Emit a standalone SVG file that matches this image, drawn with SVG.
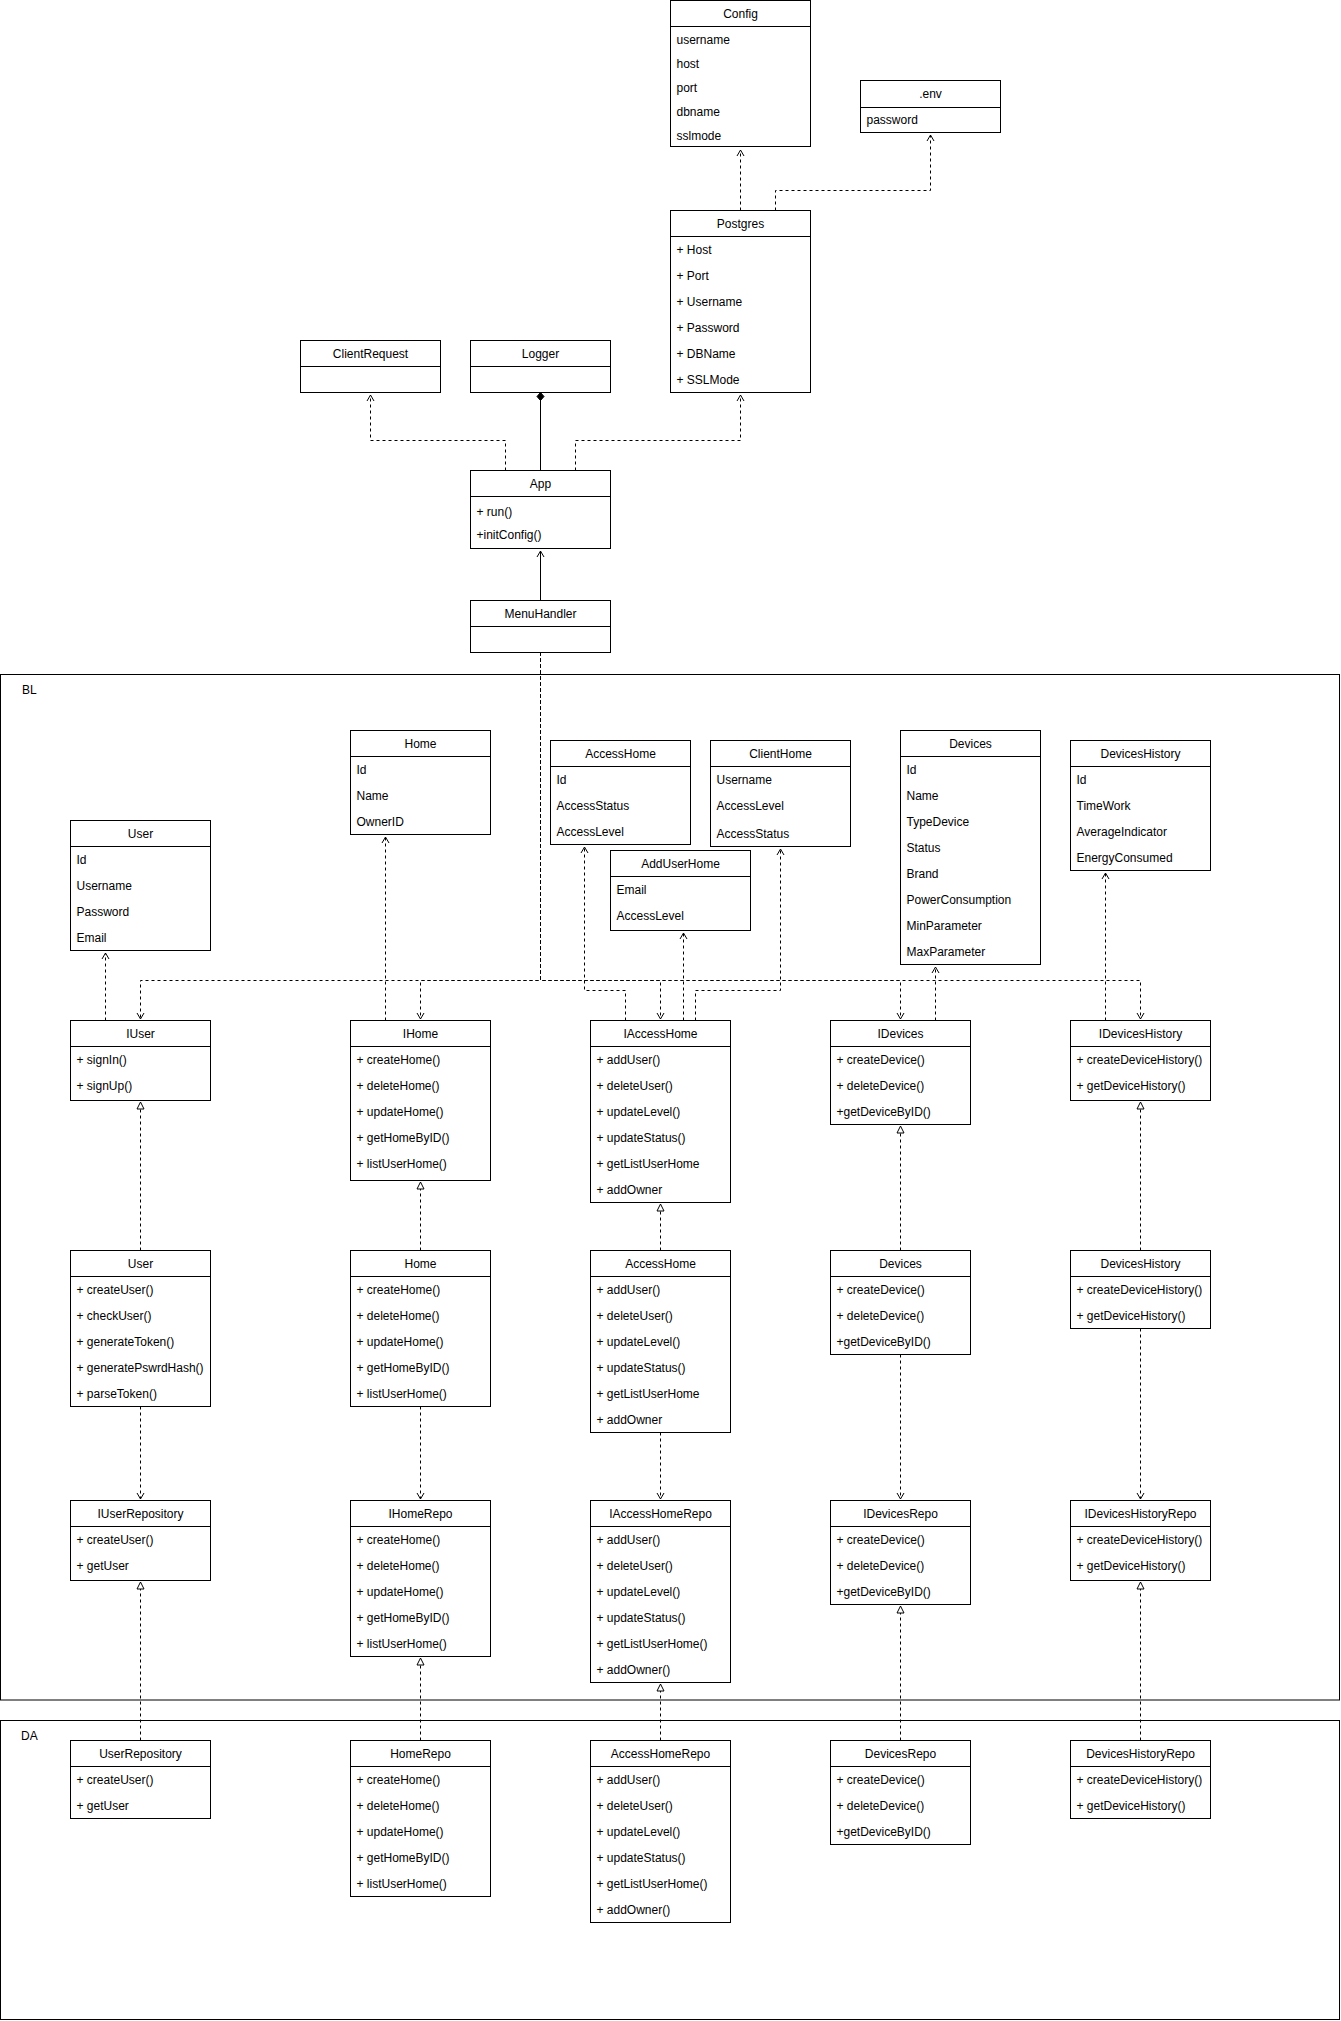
<svg xmlns="http://www.w3.org/2000/svg" width="1341" height="2021" viewBox="0 0 1341 2021">
<style>
.box{fill:#fff;stroke:#000;stroke-width:1}
.sep{stroke:#000;stroke-width:1}
.cont{fill:none;stroke:#000;stroke-width:1}
text{font-family:"Liberation Sans",Arial,Helvetica,sans-serif;font-size:12px;fill:#000}
.h{text-anchor:middle}
.e{fill:none;stroke:#000;stroke-width:1}
.d{stroke-dasharray:3 3}
.dep{marker-end:url(#open)}
.real{marker-end:url(#tri)}
</style>
<defs>
<marker id="open" viewBox="-9 -5 10 10" refX="0" refY="0" markerWidth="10" markerHeight="10" markerUnits="userSpaceOnUse" orient="auto" overflow="visible"><path d="M-6,-3.5 L0,0 L-6,3.5" fill="none" stroke="#000" stroke-width="1"/></marker>
<marker id="tri" viewBox="-9 -5 10 10" refX="0" refY="0" markerWidth="10" markerHeight="10" markerUnits="userSpaceOnUse" orient="auto" overflow="visible"><path d="M-7,-3.5 L0,0 L-7,3.5 Z" fill="#fff" stroke="#000" stroke-width="1"/></marker>
<marker id="dia" viewBox="-9 -5 10 10" refX="0" refY="0" markerWidth="10" markerHeight="10" markerUnits="userSpaceOnUse" orient="auto" overflow="visible"><path d="M0,0 L-4,-3.5 L-8,0 L-4,3.5 Z" fill="#000" stroke="#000" stroke-width="1"/></marker>
</defs>
<rect width="1341" height="2021" fill="#fff"/>

<g id="containers">
<g id="c-bl"><rect class="cont" x="0.5" y="674.5" width="1339" height="1025.5"/><text x="22" y="694">BL</text></g>
<g id="c-da"><rect class="cont" x="0.5" y="1720.5" width="1339" height="299"/><text x="21" y="1740">DA</text></g>
</g>

<g id="connectors">
<path class="e d dep" d="M740.5,210.5 V150"/>
<path class="e d dep" d="M775.5,210.5 V190.5 H930.5 V135"/>
<path class="e d dep" d="M505.5,470.5 V440.5 H370.5 V395"/>
<path class="e" style="marker-end:url(#dia)" d="M540.5,470.5 V392.5"/>
<path class="e d dep" d="M575.5,470.5 V440.5 H740.5 V395"/>
<path class="e dep" d="M540.5,600.5 V551"/>
<path class="e d dep" d="M540.5,652.5 V980.5 H140.5 V1019"/>
<path class="e d dep" d="M540.5,652.5 V980.5 H420.5 V1019"/>
<path class="e d dep" d="M540.5,652.5 V980.5 H660.5 V1019"/>
<path class="e d dep" d="M540.5,652.5 V980.5 H900.5 V1019"/>
<path class="e d dep" d="M540.5,652.5 V980.5 H1140.5 V1019"/>
<path class="e d dep" d="M105.5,1020.5 V953"/>
<path class="e d dep" d="M385.5,1020.5 V837"/>
<path class="e d dep" d="M625.5,1020.5 V990.5 H584.5 V847"/>
<path class="e d dep" d="M683.5,1020.5 V933"/>
<path class="e d dep" d="M695.5,1020.5 V990.5 H780.5 V849"/>
<path class="e d dep" d="M935.5,1020.5 V967"/>
<path class="e d dep" d="M1105.5,1020.5 V873"/>
<path class="e d real" d="M140.5,1250.5 V1102"/>
<path class="e d real" d="M420.5,1250.5 V1182"/>
<path class="e d real" d="M660.5,1250.5 V1204"/>
<path class="e d real" d="M900.5,1250.5 V1126"/>
<path class="e d real" d="M1140.5,1250.5 V1102"/>
<path class="e d dep" d="M140.5,1406.5 V1499"/>
<path class="e d dep" d="M420.5,1406.5 V1499"/>
<path class="e d dep" d="M660.5,1432.5 V1499"/>
<path class="e d dep" d="M900.5,1354.5 V1499"/>
<path class="e d dep" d="M1140.5,1328.5 V1499"/>
<path class="e d real" d="M140.5,1740.5 V1582"/>
<path class="e d real" d="M420.5,1740.5 V1658"/>
<path class="e d real" d="M660.5,1740.5 V1684"/>
<path class="e d real" d="M900.5,1740.5 V1606"/>
<path class="e d real" d="M1140.5,1740.5 V1582"/>
</g>

<g id="n-config"><rect class="box" x="670.5" y="0.5" width="140" height="146"/><line class="sep" x1="670.5" y1="26.5" x2="810.5" y2="26.5"/><text class="h" x="740.5" y="17.5">Config</text><text x="676.5" y="44">username</text><text x="676.5" y="67.5">host</text><text x="676.5" y="91.5">port</text><text x="676.5" y="115.5">dbname</text><text x="676.5" y="139.5">sslmode</text></g>
<g id="n-env"><rect class="box" x="860.5" y="80.5" width="140" height="52"/><line class="sep" x1="860.5" y1="107.5" x2="1000.5" y2="107.5"/><text class="h" x="930.5" y="97.5">.env</text><text x="866.5" y="124">password</text></g>
<g id="n-postgres"><rect class="box" x="670.5" y="210.5" width="140" height="182"/><line class="sep" x1="670.5" y1="236.5" x2="810.5" y2="236.5"/><text class="h" x="740.5" y="227.5">Postgres</text><text x="676.5" y="253.5">+ Host</text><text x="676.5" y="279.5">+ Port</text><text x="676.5" y="305.5">+ Username</text><text x="676.5" y="331.5">+ Password</text><text x="676.5" y="357.5">+ DBName</text><text x="676.5" y="383.5">+ SSLMode</text></g>
<g id="n-clientrequest"><rect class="box" x="300.5" y="340.5" width="140" height="52"/><line class="sep" x1="300.5" y1="366.5" x2="440.5" y2="366.5"/><text class="h" x="370.5" y="357.5">ClientRequest</text></g>
<g id="n-logger"><rect class="box" x="470.5" y="340.5" width="140" height="52"/><line class="sep" x1="470.5" y1="366.5" x2="610.5" y2="366.5"/><text class="h" x="540.5" y="357.5">Logger</text></g>
<g id="n-app"><rect class="box" x="470.5" y="470.5" width="140" height="78"/><line class="sep" x1="470.5" y1="496.5" x2="610.5" y2="496.5"/><text class="h" x="540.5" y="487.5">App</text><text x="476.5" y="515.5">+ run()</text><text x="476.5" y="539">+initConfig()</text></g>
<g id="n-menuhandler"><rect class="box" x="470.5" y="600.5" width="140" height="52"/><line class="sep" x1="470.5" y1="626.5" x2="610.5" y2="626.5"/><text class="h" x="540.5" y="617.5">MenuHandler</text></g>

<g id="n-user-entity"><rect class="box" x="70.5" y="820.5" width="140" height="130"/><line class="sep" x1="70.5" y1="846.5" x2="210.5" y2="846.5"/><text class="h" x="140.5" y="837.5">User</text><text x="76.5" y="864">Id</text><text x="76.5" y="890">Username</text><text x="76.5" y="916">Password</text><text x="76.5" y="942">Email</text></g>
<g id="n-home-entity"><rect class="box" x="350.5" y="730.5" width="140" height="104"/><line class="sep" x1="350.5" y1="756.5" x2="490.5" y2="756.5"/><text class="h" x="420.5" y="747.5">Home</text><text x="356.5" y="774">Id</text><text x="356.5" y="800">Name</text><text x="356.5" y="826">OwnerID</text></g>
<g id="n-accesshome-entity"><rect class="box" x="550.5" y="740.5" width="140" height="104"/><line class="sep" x1="550.5" y1="766.5" x2="690.5" y2="766.5"/><text class="h" x="620.5" y="757.5">AccessHome</text><text x="556.5" y="784">Id</text><text x="556.5" y="810">AccessStatus</text><text x="556.5" y="836">AccessLevel</text></g>
<g id="n-clienthome"><rect class="box" x="710.5" y="740.5" width="140" height="106"/><line class="sep" x1="710.5" y1="766.5" x2="850.5" y2="766.5"/><text class="h" x="780.5" y="757.5">ClientHome</text><text x="716.5" y="784">Username</text><text x="716.5" y="810">AccessLevel</text><text x="716.5" y="838">AccessStatus</text></g>
<g id="n-adduserhome"><rect class="box" x="610.5" y="850.5" width="140" height="80"/><line class="sep" x1="610.5" y1="876.5" x2="750.5" y2="876.5"/><text class="h" x="680.5" y="867.5">AddUserHome</text><text x="616.5" y="894">Email</text><text x="616.5" y="920">AccessLevel</text></g>
<g id="n-devices-entity"><rect class="box" x="900.5" y="730.5" width="140" height="234"/><line class="sep" x1="900.5" y1="756.5" x2="1040.5" y2="756.5"/><text class="h" x="970.5" y="747.5">Devices</text><text x="906.5" y="774">Id</text><text x="906.5" y="800">Name</text><text x="906.5" y="826">TypeDevice</text><text x="906.5" y="852">Status</text><text x="906.5" y="878">Brand</text><text x="906.5" y="904">PowerConsumption</text><text x="906.5" y="930">MinParameter</text><text x="906.5" y="956">MaxParameter</text></g>
<g id="n-deviceshistory-entity"><rect class="box" x="1070.5" y="740.5" width="140" height="130"/><line class="sep" x1="1070.5" y1="766.5" x2="1210.5" y2="766.5"/><text class="h" x="1140.5" y="757.5">DevicesHistory</text><text x="1076.5" y="784">Id</text><text x="1076.5" y="810">TimeWork</text><text x="1076.5" y="836">AverageIndicator</text><text x="1076.5" y="862">EnergyConsumed</text></g>

<g id="n-iuser"><rect class="box" x="70.5" y="1020.5" width="140" height="80"/><line class="sep" x1="70.5" y1="1046.5" x2="210.5" y2="1046.5"/><text class="h" x="140.5" y="1037.5">IUser</text><text x="76.5" y="1064">+ signIn()</text><text x="76.5" y="1090">+ signUp()</text></g>
<g id="n-ihome"><rect class="box" x="350.5" y="1020.5" width="140" height="160"/><line class="sep" x1="350.5" y1="1046.5" x2="490.5" y2="1046.5"/><text class="h" x="420.5" y="1037.5">IHome</text><text x="356.5" y="1064">+ createHome()</text><text x="356.5" y="1090">+ deleteHome()</text><text x="356.5" y="1116">+ updateHome()</text><text x="356.5" y="1142">+ getHomeByID()</text><text x="356.5" y="1168">+ listUserHome()</text></g>
<g id="n-iaccesshome"><rect class="box" x="590.5" y="1020.5" width="140" height="182"/><line class="sep" x1="590.5" y1="1046.5" x2="730.5" y2="1046.5"/><text class="h" x="660.5" y="1037.5">IAccessHome</text><text x="596.5" y="1064">+ addUser()</text><text x="596.5" y="1090">+ deleteUser()</text><text x="596.5" y="1116">+ updateLevel()</text><text x="596.5" y="1142">+ updateStatus()</text><text x="596.5" y="1168">+ getListUserHome</text><text x="596.5" y="1194">+ addOwner</text></g>
<g id="n-idevices"><rect class="box" x="830.5" y="1020.5" width="140" height="104"/><line class="sep" x1="830.5" y1="1046.5" x2="970.5" y2="1046.5"/><text class="h" x="900.5" y="1037.5">IDevices</text><text x="836.5" y="1064">+ createDevice()</text><text x="836.5" y="1090">+ deleteDevice()</text><text x="836.5" y="1116">+getDeviceByID()</text></g>
<g id="n-ideviceshistory"><rect class="box" x="1070.5" y="1020.5" width="140" height="80"/><line class="sep" x1="1070.5" y1="1046.5" x2="1210.5" y2="1046.5"/><text class="h" x="1140.5" y="1037.5">IDevicesHistory</text><text x="1076.5" y="1064">+ createDeviceHistory()</text><text x="1076.5" y="1090">+ getDeviceHistory()</text></g>

<g id="n-user"><rect class="box" x="70.5" y="1250.5" width="140" height="156"/><line class="sep" x1="70.5" y1="1276.5" x2="210.5" y2="1276.5"/><text class="h" x="140.5" y="1267.5">User</text><text x="76.5" y="1294">+ createUser()</text><text x="76.5" y="1320">+ checkUser()</text><text x="76.5" y="1346">+ generateToken()</text><text x="76.5" y="1372">+ generatePswrdHash()</text><text x="76.5" y="1398">+ parseToken()</text></g>
<g id="n-home"><rect class="box" x="350.5" y="1250.5" width="140" height="156"/><line class="sep" x1="350.5" y1="1276.5" x2="490.5" y2="1276.5"/><text class="h" x="420.5" y="1267.5">Home</text><text x="356.5" y="1294">+ createHome()</text><text x="356.5" y="1320">+ deleteHome()</text><text x="356.5" y="1346">+ updateHome()</text><text x="356.5" y="1372">+ getHomeByID()</text><text x="356.5" y="1398">+ listUserHome()</text></g>
<g id="n-accesshome"><rect class="box" x="590.5" y="1250.5" width="140" height="182"/><line class="sep" x1="590.5" y1="1276.5" x2="730.5" y2="1276.5"/><text class="h" x="660.5" y="1267.5">AccessHome</text><text x="596.5" y="1294">+ addUser()</text><text x="596.5" y="1320">+ deleteUser()</text><text x="596.5" y="1346">+ updateLevel()</text><text x="596.5" y="1372">+ updateStatus()</text><text x="596.5" y="1398">+ getListUserHome</text><text x="596.5" y="1424">+ addOwner</text></g>
<g id="n-devices"><rect class="box" x="830.5" y="1250.5" width="140" height="104"/><line class="sep" x1="830.5" y1="1276.5" x2="970.5" y2="1276.5"/><text class="h" x="900.5" y="1267.5">Devices</text><text x="836.5" y="1294">+ createDevice()</text><text x="836.5" y="1320">+ deleteDevice()</text><text x="836.5" y="1346">+getDeviceByID()</text></g>
<g id="n-deviceshistory"><rect class="box" x="1070.5" y="1250.5" width="140" height="78"/><line class="sep" x1="1070.5" y1="1276.5" x2="1210.5" y2="1276.5"/><text class="h" x="1140.5" y="1267.5">DevicesHistory</text><text x="1076.5" y="1294">+ createDeviceHistory()</text><text x="1076.5" y="1320">+ getDeviceHistory()</text></g>

<g id="n-iuserrepository"><rect class="box" x="70.5" y="1500.5" width="140" height="80"/><line class="sep" x1="70.5" y1="1526.5" x2="210.5" y2="1526.5"/><text class="h" x="140.5" y="1517.5">IUserRepository</text><text x="76.5" y="1544">+ createUser()</text><text x="76.5" y="1570">+ getUser</text></g>
<g id="n-ihomerepo"><rect class="box" x="350.5" y="1500.5" width="140" height="156"/><line class="sep" x1="350.5" y1="1526.5" x2="490.5" y2="1526.5"/><text class="h" x="420.5" y="1517.5">IHomeRepo</text><text x="356.5" y="1544">+ createHome()</text><text x="356.5" y="1570">+ deleteHome()</text><text x="356.5" y="1596">+ updateHome()</text><text x="356.5" y="1622">+ getHomeByID()</text><text x="356.5" y="1648">+ listUserHome()</text></g>
<g id="n-iaccesshomerepo"><rect class="box" x="590.5" y="1500.5" width="140" height="182"/><line class="sep" x1="590.5" y1="1526.5" x2="730.5" y2="1526.5"/><text class="h" x="660.5" y="1517.5">IAccessHomeRepo</text><text x="596.5" y="1544">+ addUser()</text><text x="596.5" y="1570">+ deleteUser()</text><text x="596.5" y="1596">+ updateLevel()</text><text x="596.5" y="1622">+ updateStatus()</text><text x="596.5" y="1648">+ getListUserHome()</text><text x="596.5" y="1674">+ addOwner()</text></g>
<g id="n-idevicesrepo"><rect class="box" x="830.5" y="1500.5" width="140" height="104"/><line class="sep" x1="830.5" y1="1526.5" x2="970.5" y2="1526.5"/><text class="h" x="900.5" y="1517.5">IDevicesRepo</text><text x="836.5" y="1544">+ createDevice()</text><text x="836.5" y="1570">+ deleteDevice()</text><text x="836.5" y="1596">+getDeviceByID()</text></g>
<g id="n-ideviceshistoryrepo"><rect class="box" x="1070.5" y="1500.5" width="140" height="80"/><line class="sep" x1="1070.5" y1="1526.5" x2="1210.5" y2="1526.5"/><text class="h" x="1140.5" y="1517.5">IDevicesHistoryRepo</text><text x="1076.5" y="1544">+ createDeviceHistory()</text><text x="1076.5" y="1570">+ getDeviceHistory()</text></g>

<g id="n-userrepository"><rect class="box" x="70.5" y="1740.5" width="140" height="78"/><line class="sep" x1="70.5" y1="1766.5" x2="210.5" y2="1766.5"/><text class="h" x="140.5" y="1757.5">UserRepository</text><text x="76.5" y="1784">+ createUser()</text><text x="76.5" y="1810">+ getUser</text></g>
<g id="n-homerepo"><rect class="box" x="350.5" y="1740.5" width="140" height="156"/><line class="sep" x1="350.5" y1="1766.5" x2="490.5" y2="1766.5"/><text class="h" x="420.5" y="1757.5">HomeRepo</text><text x="356.5" y="1784">+ createHome()</text><text x="356.5" y="1810">+ deleteHome()</text><text x="356.5" y="1836">+ updateHome()</text><text x="356.5" y="1862">+ getHomeByID()</text><text x="356.5" y="1888">+ listUserHome()</text></g>
<g id="n-accesshomerepo"><rect class="box" x="590.5" y="1740.5" width="140" height="182"/><line class="sep" x1="590.5" y1="1766.5" x2="730.5" y2="1766.5"/><text class="h" x="660.5" y="1757.5">AccessHomeRepo</text><text x="596.5" y="1784">+ addUser()</text><text x="596.5" y="1810">+ deleteUser()</text><text x="596.5" y="1836">+ updateLevel()</text><text x="596.5" y="1862">+ updateStatus()</text><text x="596.5" y="1888">+ getListUserHome()</text><text x="596.5" y="1914">+ addOwner()</text></g>
<g id="n-devicesrepo"><rect class="box" x="830.5" y="1740.5" width="140" height="104"/><line class="sep" x1="830.5" y1="1766.5" x2="970.5" y2="1766.5"/><text class="h" x="900.5" y="1757.5">DevicesRepo</text><text x="836.5" y="1784">+ createDevice()</text><text x="836.5" y="1810">+ deleteDevice()</text><text x="836.5" y="1836">+getDeviceByID()</text></g>
<g id="n-deviceshistoryrepo"><rect class="box" x="1070.5" y="1740.5" width="140" height="78"/><line class="sep" x1="1070.5" y1="1766.5" x2="1210.5" y2="1766.5"/><text class="h" x="1140.5" y="1757.5">DevicesHistoryRepo</text><text x="1076.5" y="1784">+ createDeviceHistory()</text><text x="1076.5" y="1810">+ getDeviceHistory()</text></g>
</svg>
